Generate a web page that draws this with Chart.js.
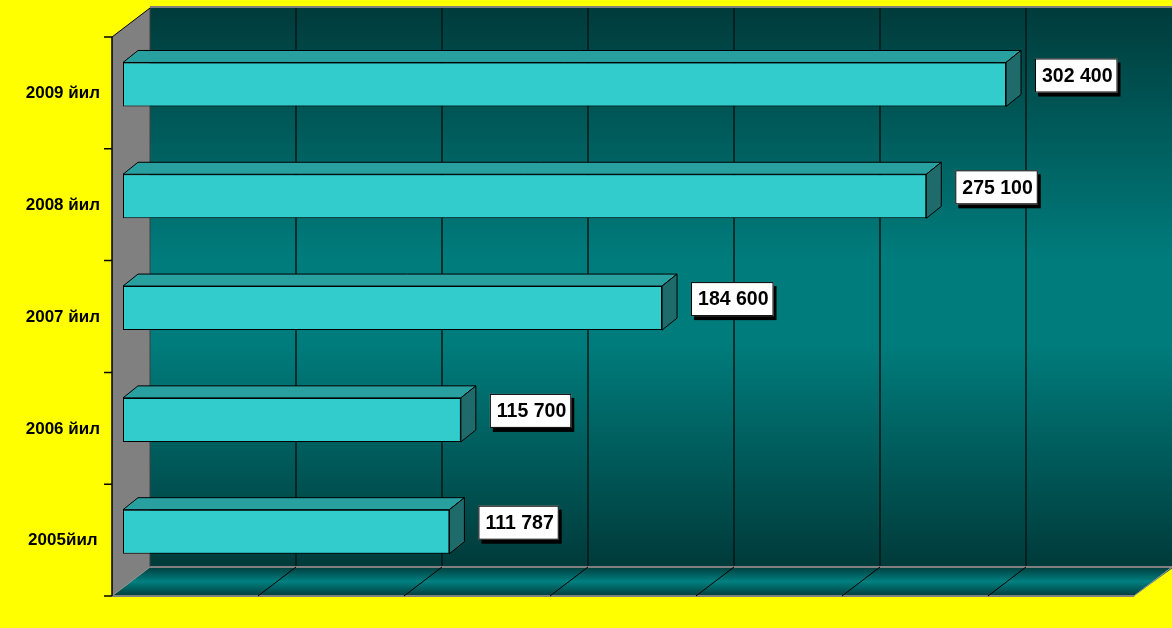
<!DOCTYPE html>
<html>
<head>
<meta charset="utf-8">
<script src="https://cdn.jsdelivr.net/npm/chart.js@4.4.1/dist/chart.umd.min.js"></script>
<style>
  body { margin: 0; background: #ffff00; }
  canvas { display: block; }
</style>
</head>
<body>
<canvas id="volume_chart" width="1172" height="628"></canvas>
<script>
// Years on the category axis (bottom to top).
var years = ['2005йил', '2006 йил', '2007 йил', '2008 йил', '2009 йил'];

// Value for each year.
var volumes = [111787, 115700, 184600, 275100, 302400];

// Value axis range and grid step.
var axis_min = 0;
var axis_max = 350000;
var axis_step = 50000;

// Depth of the 3D box, relative to the front face of the bars.
var wall_front = {dx: -11, dy: 8.4};
var wall_back = {dx: 27, dy: -20.6};
var bar_depth = {dx: 15, dy: -12};

/**
 * Formats a number with a space between thousands, e.g. 302 400.
 */
function format_value(v) {
    return String(v).replace(/\B(?=(\d{3})+(?!\d))/g, ' ');
}

// Draws the walls, floor and grid of the 3D box behind the bars.
var box_plugin = {
    id: 'box3d',
    beforeDatasetsDraw(chart) {
        var ctx = chart.ctx;
        var area = chart.chartArea;
        var xs = chart.scales.x;

        var top_back = area.top + wall_back.dy;
        var bot_back = area.bottom + wall_back.dy;
        var top_front = area.top + wall_front.dy;
        var bot_front = area.bottom + wall_front.dy;
        var left_back = area.left + wall_back.dx;
        var left_front = area.left + wall_front.dx;
        var right_back = area.right + wall_back.dx;
        var right_front = area.right + wall_front.dx;

        ctx.save();

        // Back wall with vertical gradient.
        var g = ctx.createLinearGradient(0, top_back, 0, bot_back);
        g.addColorStop(0, '#003b3b');
        g.addColorStop(0.45, '#007c7c');
        g.addColorStop(0.6, '#007c7c');
        g.addColorStop(1, '#003a3a');
        ctx.fillStyle = g;
        ctx.fillRect(left_back, top_back, right_back - left_back + 2, bot_back - top_back);

        // Grey edge on top of the back wall.
        ctx.strokeStyle = '#808080';
        ctx.lineWidth = 2;
        ctx.beginPath();
        ctx.moveTo(left_back, top_back - 1);
        ctx.lineTo(right_back + 2, top_back - 1);
        ctx.stroke();

        // Vertical grid lines on the back wall.
        ctx.strokeStyle = '#001818';
        ctx.lineWidth = 1.5;
        for (var v = axis_min + axis_step; v < axis_max; v += axis_step) {
            var x = xs.getPixelForValue(v) + wall_back.dx;
            ctx.beginPath();
            ctx.moveTo(x, top_back);
            ctx.lineTo(x, bot_back);
            ctx.stroke();
        }

        // Left side wall.
        ctx.fillStyle = '#808080';
        ctx.beginPath();
        ctx.moveTo(left_front, top_front);
        ctx.lineTo(left_back, top_back);
        ctx.lineTo(left_back, bot_back);
        ctx.lineTo(left_front, bot_front);
        ctx.closePath();
        ctx.fill();
        ctx.strokeStyle = '#404040';
        ctx.lineWidth = 1;
        ctx.beginPath();
        ctx.moveTo(left_back, top_back);
        ctx.lineTo(left_back, bot_back);
        ctx.stroke();
        ctx.strokeStyle = '#000000';
        ctx.beginPath();
        ctx.moveTo(left_front, top_front);
        ctx.lineTo(left_back, top_back);
        ctx.stroke();

        // Floor with gradient.
        var fg = ctx.createLinearGradient(0, bot_back, 0, bot_front);
        fg.addColorStop(0, '#003c3c');
        fg.addColorStop(0.5, '#008080');
        fg.addColorStop(1, '#003c3c');
        ctx.fillStyle = fg;
        ctx.beginPath();
        ctx.moveTo(left_back, bot_back);
        ctx.lineTo(right_back + 2, bot_back);
        ctx.lineTo(right_back + 2, bot_front);
        ctx.lineTo(left_front, bot_front);
        ctx.closePath();
        ctx.fill();

        // Grey floor edges.
        ctx.strokeStyle = '#808080';
        ctx.lineWidth = 2;
        ctx.beginPath();
        ctx.moveTo(left_back, bot_back);
        ctx.lineTo(right_back + 2, bot_back);
        ctx.moveTo(left_front, bot_front);
        ctx.lineTo(right_front, bot_front);
        ctx.stroke();

        // Diagonal grid lines on the floor.
        ctx.lineWidth = 1;
        for (var v2 = axis_min; v2 <= axis_max; v2 += axis_step) {
            var px = xs.getPixelForValue(v2);
            var edge = (v2 === axis_min || v2 === axis_max);
            ctx.strokeStyle = edge ? '#909090' : '#000000';
            ctx.beginPath();
            ctx.moveTo(px + wall_back.dx, bot_back);
            ctx.lineTo(px + wall_front.dx, bot_front);
            ctx.stroke();
        }

        // Yellow below the floor on the right (the box ends at the canvas edge).
        ctx.fillStyle = '#ffff00';
        ctx.beginPath();
        ctx.moveTo(right_front, bot_front);
        ctx.lineTo(right_back + 2, bot_back);
        ctx.lineTo(right_back + 2, bot_front + 1);
        ctx.closePath();
        ctx.fill();
        ctx.strokeStyle = '#909090';
        ctx.beginPath();
        ctx.moveTo(right_front, bot_front);
        ctx.lineTo(right_back, bot_back);
        ctx.stroke();

        // Front edge of the category axis with tick marks.
        ctx.strokeStyle = '#000000';
        ctx.lineWidth = 1.5;
        ctx.beginPath();
        ctx.moveTo(left_front, top_front);
        ctx.lineTo(left_front, bot_front);
        var band = (area.bottom - area.top) / years.length;
        for (var i = 0; i <= years.length; i++) {
            var ty = area.top + wall_front.dy + band * i;
            ctx.moveTo(left_front - 8, ty);
            ctx.lineTo(left_front, ty);
        }
        ctx.stroke();

        ctx.restore();
    },

    // Top and side faces of each bar, and the value boxes.
    afterDatasetsDraw(chart) {
        var ctx = chart.ctx;
        var meta = chart.getDatasetMeta(0);
        ctx.save();
        ctx.lineWidth = 1;
        ctx.strokeStyle = '#000000';
        meta.data.forEach(function(bar, i) {
            var x0 = bar.base;
            var x1 = bar.x;
            var yt = bar.y - bar.height / 2;
            var yb = bar.y + bar.height / 2;
            var dx = bar_depth.dx;
            var dy = bar_depth.dy;

            // Top face.
            ctx.fillStyle = '#29a0a0';
            ctx.beginPath();
            ctx.moveTo(x0, yt);
            ctx.lineTo(x0 + dx, yt + dy);
            ctx.lineTo(x1 + dx, yt + dy);
            ctx.lineTo(x1, yt);
            ctx.closePath();
            ctx.fill();
            ctx.stroke();

            // Right face.
            ctx.fillStyle = '#1f6a6a';
            ctx.beginPath();
            ctx.moveTo(x1, yt);
            ctx.lineTo(x1 + dx, yt + dy);
            ctx.lineTo(x1 + dx, yb + dy);
            ctx.lineTo(x1, yb);
            ctx.closePath();
            ctx.fill();
            ctx.stroke();

            // Value box with shadow.
            var text = format_value(volumes[i]);
            ctx.font = 'bold 19.5px "Liberation Sans", Arial, sans-serif';
            var w = ctx.measureText(text).width + 12;
            var h = 34;
            var bx = x1 + 29;
            var by = bar.y - 9 - h / 2;
            ctx.fillStyle = '#000000';
            ctx.fillRect(bx + 3, by + 4, w, h);
            ctx.fillStyle = '#ffffff';
            ctx.fillRect(bx, by, w, h);
            ctx.strokeRect(bx + 0.5, by + 0.5, w - 1, h - 1);
            ctx.fillStyle = '#000000';
            ctx.textAlign = 'center';
            ctx.textBaseline = 'middle';
            ctx.fillText(text, bx + w / 2 + 1, by + h / 2 + 1);
        });
        ctx.restore();
    }
};

new Chart(document.getElementById('volume_chart'), {
    type: 'bar',
    data: {
        labels: years,
        datasets: [{
            data: volumes,
            backgroundColor: '#33cccc',
            borderColor: '#000000',
            borderWidth: 1,
            borderSkipped: false,
            categoryPercentage: 0.394,
            barPercentage: 1.0
        }]
    },
    options: {
        indexAxis: 'y',
        responsive: false,
        animation: false,
        layout: {
            padding: {left: 0, right: 27, top: 28.6, bottom: 40.4}
        },
        scales: {
            x: {
                display: false,
                min: axis_min,
                max: axis_max
            },
            y: {
                reverse: true,
                grid: {display: false, drawTicks: false},
                border: {display: false},
                afterFit: function(scale) {
                    scale.width = 123;
                    scale.paddingTop = 0;
                    scale.paddingBottom = 0;
                },
                ticks: {
                    color: '#000000',
                    padding: 23,
                    labelOffset: 9,
                    crossAlign: 'center',
                    font: {family: '"Liberation Sans", Arial, sans-serif', size: 17, weight: 'bold'}
                }
            }
        },
        plugins: {
            legend: {display: false},
            tooltip: {enabled: false}
        }
    },
    plugins: [box_plugin]
});
</script>
</body>
</html>
